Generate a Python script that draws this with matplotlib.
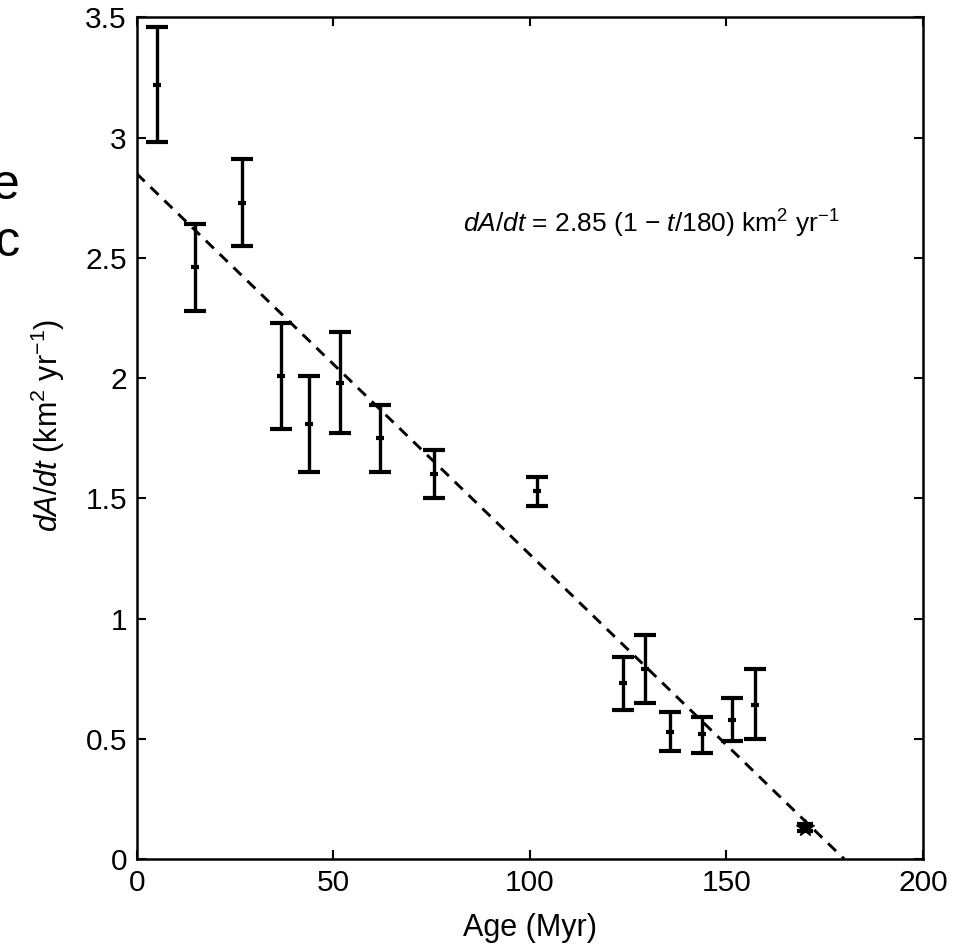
import matplotlib
matplotlib.use("Agg")
import matplotlib.pyplot as plt
import numpy as np

plt.rcParams['font.family'] = ['Liberation Sans', 'DejaVu Sans']
plt.rcParams['mathtext.fontset'] = 'custom'
plt.rcParams['mathtext.rm'] = 'Liberation Sans'
plt.rcParams['mathtext.it'] = 'Liberation Sans:italic'

# data
age = [5.1, 14.8, 26.7, 36.6, 43.9, 51.7, 61.9, 75.6, 101.9,
       123.6, 129.3, 135.7, 143.8, 151.4, 157.3]
rate = [3.22, 2.46, 2.73, 2.01, 1.81, 1.98, 1.75, 1.60, 1.53,
        0.73, 0.79, 0.53, 0.52, 0.58, 0.64]
upper = [3.46, 2.64, 2.91, 2.23, 2.01, 2.19, 1.89, 1.70, 1.59,
         0.84, 0.93, 0.61, 0.59, 0.67, 0.79]
lower = [2.98, 2.28, 2.55, 1.79, 1.61, 1.77, 1.61, 1.50, 1.47,
         0.62, 0.65, 0.45, 0.44, 0.49, 0.50]

star_age = [169.9]
star_rate = [0.13]
star_err = [0.015]

# fit: dA/dt = 2.85 (1 - t/180)
fit_a = 2.85
fit_t = 180
t_fit = [0, fit_t]
fit_vals = [fit_a * (1 - t / fit_t) for t in t_fit]

rate = np.array(rate)
yerr = [rate - np.array(lower), np.array(upper) - rate]

fig = plt.figure(figsize=(9.73, 9.51), dpi=100)
ax = fig.add_axes([0.1405, 0.0967, 0.808, 0.885])

ax.plot(t_fit, fit_vals, color='black', lw=2.1, ls=(0, (3.8, 2.8)))
ax.errorbar(age, rate, yerr=yerr, fmt='_', color='black', ms=6, mew=3,
            elinewidth=2.4, capsize=8, capthick=3.2)
ax.errorbar(star_age, star_rate, yerr=star_err, fmt='*', color='black',
            ms=13, elinewidth=2.4, capsize=6, capthick=3)

ax.set_xlim(0, 200)
ax.set_ylim(0, 3.5)
ax.set_xticks([0, 50, 100, 150, 200])
ax.set_yticks([0, 0.5, 1, 1.5, 2, 2.5, 3, 3.5])
ax.set_yticklabels(['0', '0.5', '1', '1.5', '2', '2.5', '3', '3.5'])
ax.tick_params(direction='in', length=6.5, width=1.5, labelsize=21.5,
               top=True, right=True, pad=7)
for s in ax.spines.values():
    s.set_linewidth(1.8)

ax.set_xlabel('Age (Myr)', fontsize=22, labelpad=12)
ax.set_ylabel(r'$dA/dt$ (km$^2$ yr$^{-1}$)', fontsize=22, labelpad=13)
ax.yaxis.label.set_y(0.515)

ax.text(83.0, 2.607, r'$dA/dt$ = 2.85 (1 $-$ $t$/180) km$^2$ yr$^{-1}$',
        fontsize=19, ha='left', va='baseline')

# slide text fragments cut off at the left edge
fig.text(20 / 973, 1 - 199 / 951, 'e', fontsize=36, ha='right', va='baseline')
fig.text(21 / 973, 1 - 256 / 951, 'ic', fontsize=36, ha='right', va='baseline')

fig.savefig('out.png', dpi=100)
